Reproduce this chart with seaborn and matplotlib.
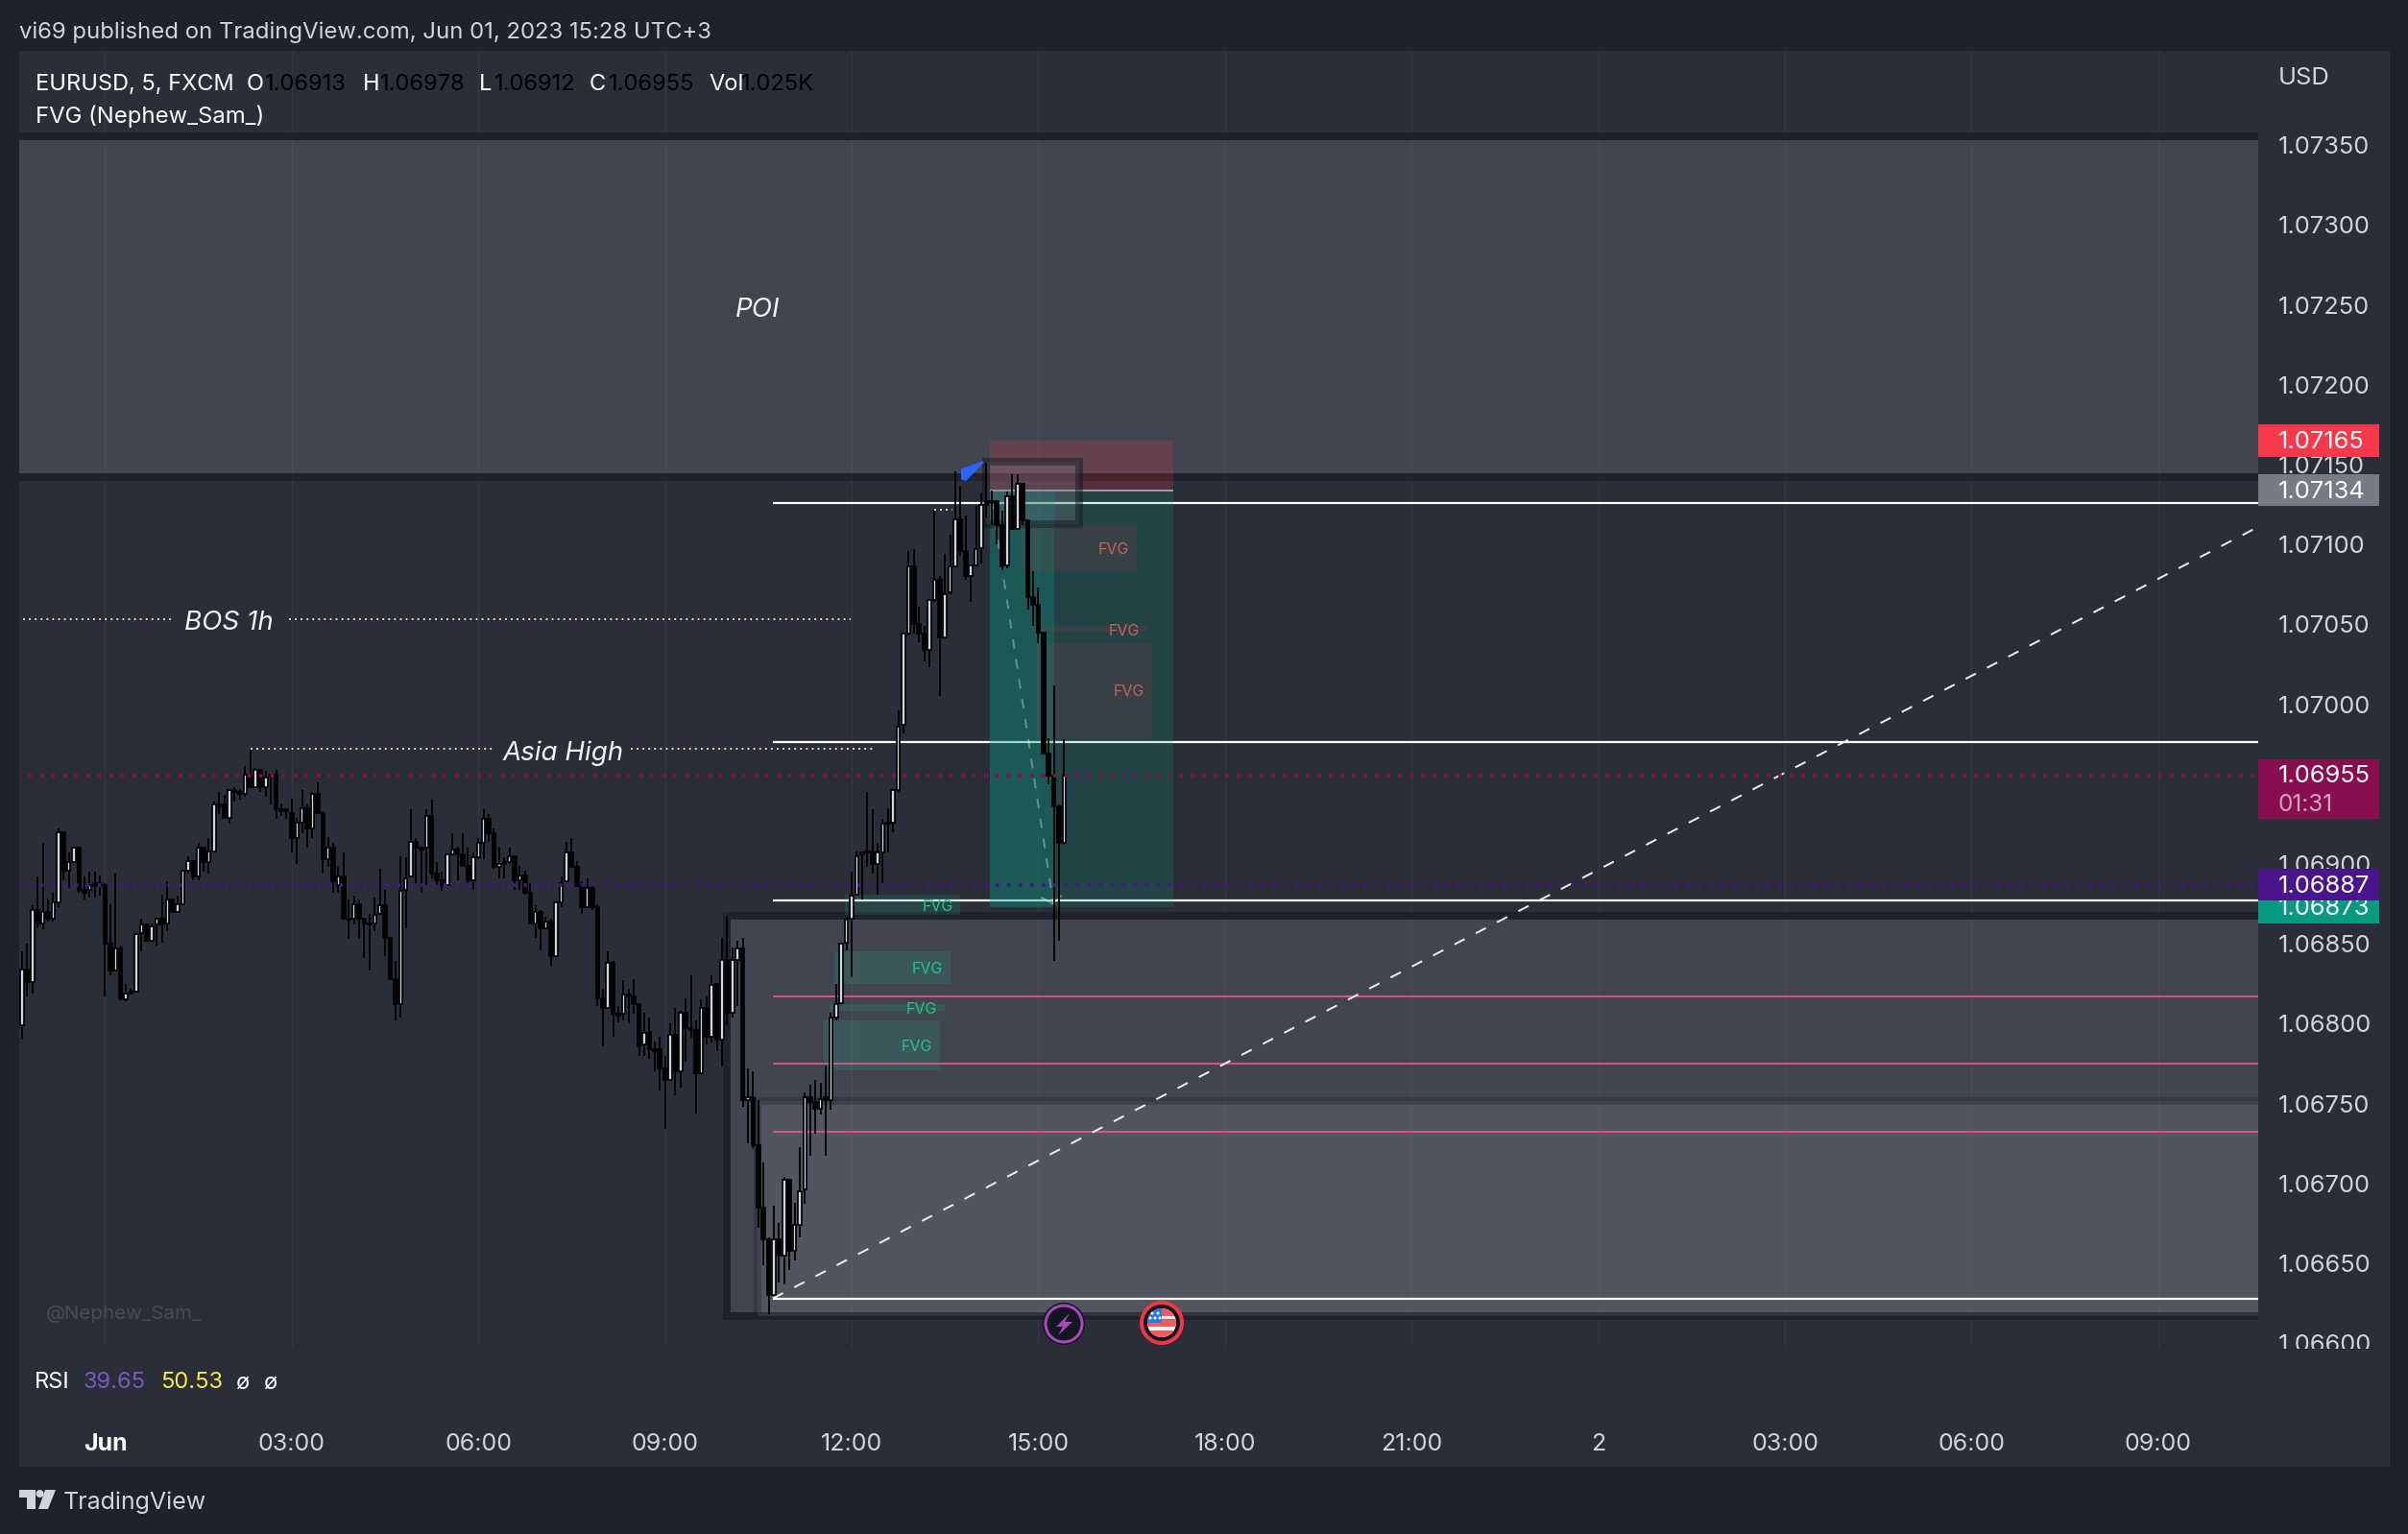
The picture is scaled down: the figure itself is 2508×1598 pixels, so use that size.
import numpy as np
import pandas as pd
import matplotlib
matplotlib.use("Agg")
import matplotlib.pyplot as plt
import seaborn as sns
from matplotlib.patches import Rectangle, Circle, Polygon
from matplotlib.transforms import Affine2D, Bbox, blended_transform_factory

# 5 minute EURUSD candles, in 1/100000 of a dollar.
# first_bar is 22:40, bar 0 is Jun 1st 00:00
first_bar = -16

candle_open = [
    106799, 106834, 106826, 106871, 106863, 106870, 106866, 106876, 106920, 106896, 106901, 106910, 106884, 106884, 106888, 106888,
    106887, 106850, 106833, 106847, 106815, 106820, 106820, 106857, 106862, 106852,
    106862, 106866, 106863, 106878, 106870, 106875, 106896, 106902, 106892, 106910,
    106901, 106908, 106937, 106937, 106929, 106946, 106945, 106944, 106956, 106948,
    106959, 106948, 106956, 106956, 106934, 106934, 106932, 106916, 106926, 106935,
    106922, 106944, 106932, 106903, 106910, 106887, 106892, 106866, 106866, 106875,
    106866, 106863, 106863, 106869, 106874, 106854, 106828, 106812, 106884, 106892,
    106914, 106910, 106910, 106930, 106894, 106890, 106887, 106906, 106909, 106906,
    106899, 106890, 106904, 106913, 106928, 106919, 106898, 106901, 106901, 106905,
    106890, 106893, 106882, 106863, 106870, 106860, 106864, 106842, 106876, 106889,
    106907, 106898, 106886, 106873, 106885, 106873, 106816, 106810, 106838, 106806,
    106806, 106818, 106817, 106812, 106787, 106795, 106784, 106784, 106772, 106765,
    106793, 106770, 106807, 106797, 106796, 106769, 106810, 106792, 106825, 106790,
    106840, 106807, 106840, 106847, 106752, 106754, 106724, 106685, 106665, 106630,
    106665, 106655, 106702, 106658, 106674, 106696, 106754, 106751, 106747, 106754,
    106752, 106804, 106813, 106851, 106866, 106881, 106906, 106908, 106908, 106900,
    106907, 106926, 106926, 106946, 106987, 107044, 107086, 107050, 107044, 107034,
    107065, 107078, 107042, 107070, 107086, 107116, 107096, 107080, 107087, 107098,
    107127, 107127, 107127, 107112, 107087, 107130, 107110, 107138, 107115, 107067,
    107062, 107045, 106969, 106955, 106936, 106913,
]
candle_high = [
    106845, 106850, 106874, 106892, 106913, 106878, 106882, 106922, 106920, 106907, 106910, 106910, 106892, 106895, 106895, 106893,
    106888, 106875, 106894, 106849, 106825, 106822, 106856, 106866, 106863, 106863,
    106866, 106881, 106889, 106878, 106880, 106896, 106905, 106902, 106913, 106910,
    106916, 106939, 106945, 106943, 106946, 106948, 106947, 106961, 106972, 106960,
    106959, 106958, 106956, 106959, 106938, 106935, 106941, 106929, 106946, 106937,
    106945, 106951, 106933, 106917, 106913, 106898, 106907, 106878, 106880, 106878,
    106866, 106869, 106879, 106897, 106884, 106854, 106839, 106905, 106904, 106934,
    106916, 106910, 106934, 106940, 106901, 106895, 106906, 106919, 106911, 106919,
    106910, 106907, 106916, 106935, 106931, 106922, 106911, 106904, 106910, 106905,
    106899, 106896, 106888, 106874, 106871, 106867, 106866, 106876, 106892, 106914,
    106916, 106902, 106889, 106891, 106886, 106875, 106822, 106845, 106839, 106811,
    106827, 106822, 106828, 106812, 106807, 106804, 106789, 106792, 106780, 106800,
    106810, 106808, 106816, 106830, 106802, 106815, 106817, 106830, 106825, 106854,
    106867, 106848, 106852, 106854, 106772, 106770, 106752, 106713, 106666, 106686,
    106675, 106704, 106703, 106688, 106723, 106757, 106762, 106765, 106763, 106774,
    106807, 106825, 106850, 106867, 106895, 106908, 106908, 106945, 106934, 106913,
    106928, 106935, 106947, 106996, 107044, 107096, 107097, 107061, 107049, 107065,
    107121, 107080, 107094, 107106, 107146, 107137, 107118, 107087, 107124, 107132,
    107151, 107134, 107127, 107121, 107133, 107144, 107144, 107138, 107115, 107083,
    107073, 107045, 106979, 107012, 106937, 106978,
]
candle_low = [
    106790, 106817, 106819, 106860, 106859, 106864, 106864, 106873, 106890, 106885, 106901, 106882, 106878, 106879, 106879, 106880,
    106817, 106830, 106833, 106815, 106814, 106819, 106820, 106845, 106852, 106852,
    106849, 106851, 106858, 106870, 106870, 106875, 106894, 106890, 106890, 106895,
    106894, 106908, 106931, 106929, 106925, 106939, 106940, 106942, 106948, 106948,
    106945, 106942, 106937, 106928, 106930, 106928, 106907, 106900, 106919, 106910,
    106916, 106932, 106894, 106898, 106882, 106882, 106866, 106853, 106862, 106853,
    106841, 106833, 106858, 106868, 106842, 106828, 106802, 106804, 106860, 106892,
    106888, 106882, 106887, 106891, 106887, 106883, 106887, 106906, 106890, 106899,
    106886, 106884, 106903, 106903, 106914, 106897, 106891, 106891, 106900, 106884,
    106884, 106881, 106863, 106854, 106846, 106859, 106836, 106842, 106873, 106889,
    106898, 106886, 106869, 106873, 106871, 106811, 106786, 106810, 106792, 106801,
    106802, 106800, 106806, 106780, 106780, 106778, 106770, 106758, 106734, 106765,
    106755, 106760, 106776, 106791, 106744, 106769, 106787, 106788, 106783, 106773,
    106799, 106804, 106811, 106748, 106725, 106722, 106672, 106649, 106618, 106630,
    106638, 106637, 106646, 106652, 106666, 106687, 106717, 106731, 106743, 106717,
    106746, 106802, 106813, 106846, 106829, 106881, 106878, 106898, 106894, 106881,
    106886, 106907, 106920, 106945, 106982, 107043, 107044, 107039, 107027, 107023,
    107064, 107005, 107042, 107069, 107086, 107093, 107078, 107064, 107087, 107088,
    107117, 107112, 107100, 107084, 107085, 107109, 107110, 107112, 107059, 107049,
    107038, 106969, 106950, 106839, 106852, 106912,
]
candle_close = [
    106834, 106826, 106871, 106863, 106870, 106866, 106876, 106920, 106896, 106901, 106910, 106883, 106882, 106887, 106886, 106887,
    106850, 106833, 106847, 106815, 106819, 106819, 106856, 106862, 106852, 106861,
    106866, 106862, 106878, 106870, 106875, 106896, 106902, 106892, 106910, 106901,
    106908, 106937, 106936, 106929, 106946, 106945, 106944, 106956, 106948, 106959,
    106948, 106954, 106955, 106934, 106933, 106933, 106916, 106926, 106935, 106922,
    106944, 106932, 106903, 106910, 106889, 106892, 106866, 106865, 106875, 106866,
    106863, 106862, 106868, 106874, 106854, 106828, 106812, 106883, 106891, 106914,
    106910, 106909, 106930, 106894, 106890, 106887, 106906, 106909, 106906, 106899,
    106890, 106904, 106913, 106928, 106919, 106898, 106900, 106900, 106905, 106890,
    106893, 106882, 106863, 106870, 106860, 106864, 106842, 106876, 106888, 106907,
    106898, 106886, 106873, 106885, 106873, 106816, 106810, 106838, 106806, 106805,
    106818, 106817, 106812, 106786, 106794, 106784, 106783, 106772, 106765, 106793,
    106770, 106807, 106797, 106796, 106769, 106810, 106792, 106824, 106790, 106840,
    106807, 106840, 106847, 106752, 106754, 106724, 106685, 106665, 106630, 106665,
    106655, 106702, 106658, 106674, 106695, 106754, 106751, 106747, 106753, 106752,
    106804, 106812, 106850, 106865, 106880, 106905, 106907, 106907, 106900, 106907,
    106925, 106925, 106946, 106986, 107044, 107086, 107050, 107044, 107034, 107065,
    107078, 107042, 107069, 107086, 107116, 107096, 107080, 107087, 107097, 107125,
    107125, 107126, 107112, 107086, 107130, 107110, 107138, 107115, 107067, 107062,
    107045, 106969, 106955, 106936, 106913, 106955,
]

# axis labels
price_ticks = [1.066, 1.0665, 1.067, 1.0675, 1.068, 1.0685, 1.069, 1.0695, 1.07, 1.0705, 1.071, 1.0715, 1.072, 1.0725, 1.073, 1.0735]
time_ticks = [0, 36, 72, 108, 144, 180, 216, 252, 288, 324, 360, 396]
time_labels = ["Jun", "03:00", "06:00", "09:00", "12:00", "15:00", "18:00", "21:00", "2", "03:00", "06:00", "09:00"]

# price levels drawn on the chart
white_levels = [1.07126, 1.069765, 1.06877, 1.06628]
pink_levels = [1.06817, 1.06775, 1.067325]
last_price = 1.06955
purple_price = 1.06887

# fair value gaps: bar start, bar end, price low, price high, label bar, label price
red_fvgs = [
    (176.6, 199, 1.07083, 1.07112, 194.5, 1.07097),
    (178.6, 201, 1.070455, 1.07049, 196.6, 1.07046),
    (179.7, 202, 1.06979, 1.07038, 197.5, 1.07008),
]
green_fvgs = [
    (142.7, 165, 1.06868, 1.06881, 160.6, 1.06873),
    (140.6, 163, 1.06825, 1.06845, 158.6, 1.06834),
    (139.7, 162, 1.06808, 1.06812, 157.5, 1.06809),
    (138.6, 161, 1.06771, 1.06802, 156.6, 1.067855),
]

# brush stroke of the blue check mark, bar and price
check_bars = [165.2, 166.0, 169.2, 169.3, 166.0, 165.2]
check_prices = [1.07147, 1.07148, 1.07152, 1.07151, 1.0714, 1.07141]

W, H = 2508, 1598
PAGE = "#1e222d"
PANEL = "#2a2e39"
TXT = "#d1d4dc"
DARK = (30 / 255, 34 / 255, 45 / 255)
ZONE = (120 / 255, 123 / 255, 134 / 255)
LABEL_SIZE = 18.3


def fx(x):
    return x / W


def fy(y):
    return 1 - y / H


def px(n):
    # screen pixels to points
    return n * 0.72


sns.set_theme(style="dark", rc={"axes.facecolor": "none", "figure.facecolor": PAGE})
plt.rcParams['font.family'] = ['Inter', 'Noto Sans', 'DejaVu Sans']

df = pd.DataFrame({"open": candle_open, "high": candle_high, "low": candle_low, "close": candle_close}) / 1e5
df["bar"] = np.arange(first_bar, first_bar + len(df))
df["bottom"] = df[["open", "close"]].min(axis=1)
df["height"] = (df["close"] - df["open"]).abs()
df["fill"] = np.where(df["close"] >= df["open"], TXT, "black")
wicks = df.melt(id_vars="bar", value_vars=["low", "high"], value_name="price").sort_values("bar")

fig = plt.figure(figsize=(W / 100, H / 100), dpi=100)
fig.add_artist(Rectangle((fx(20), fy(1528)), fx(2469), (1528 - 53) / H, transform=fig.transFigure,
                         facecolor=PANEL, edgecolor="none", zorder=-1))

ax = fig.add_axes([fx(20), fy(1403), fx(2332), (1403 - 53) / H])
ax.set_xlim(-16.57, 415.3)
ax.set_ylim(1.065977, 1.07409)
for s in ax.spines.values():
    s.set_visible(False)
ax.set_axisbelow(True)
ax.grid(axis="x", color="#343844", linewidth=px(1.4))
ax.grid(axis="y", visible=False)

# supply and demand zones
ax.add_patch(Rectangle((-40, 1.07142), 520, 1.073556 - 1.07142, facecolor=ZONE + (0.3,),
                       edgecolor=DARK + (1,), linewidth=px(8), zorder=1))
ax.add_patch(Rectangle((119.9, 1.06617), 400, 1.068675 - 1.06617, facecolor=ZONE + (0.3,),
                       edgecolor=DARK + (1,), linewidth=px(8), zorder=1.1))
ax.add_patch(Rectangle((125.8, 1.06617), 400, 1.067516 - 1.06617, facecolor=ZONE + (0.3,),
                       edgecolor=DARK + (0.35,), linewidth=px(8), zorder=1.2))

# level lines
ax.hlines(white_levels, 128.8, 416, color="white", linewidth=px(2.2), zorder=3)
ax.hlines(pink_levels, 128.8, 416, color="#d94f87", linewidth=px(2.0), zorder=3)

# long position tool
ax.add_patch(Rectangle((170.6, 1.06873), 35.4, 1.07134 - 1.06873, facecolor="#089981", alpha=0.2, edgecolor="none", zorder=3.5))
ax.add_patch(Rectangle((170.6, 1.06873), 12.4, 1.07134 - 1.06873, facecolor="#089981", alpha=0.25, edgecolor="none", zorder=3.5))
ax.add_patch(Rectangle((170.6, 1.07134), 35.4, 1.07165 - 1.07134, facecolor="#f23645", alpha=0.2, edgecolor="none", zorder=3.5))
ax.hlines(1.07134, 170.6, 206, color="#9a9aa6", linewidth=px(2), zorder=3.6)

# order block
ax.add_patch(Rectangle((169.9, 1.07113), 18, 1.07152 - 1.07113, facecolor=ZONE + (0.3,),
                       edgecolor=(15 / 255, 20 / 255, 30 / 255, 0.45), linewidth=px(8), zorder=3.7))

for x0, x1, lo, hi, lx, ly in red_fvgs:
    ax.add_patch(Rectangle((x0, lo), x1 - x0, hi - lo, facecolor="#f23645", alpha=0.1, edgecolor="none", zorder=3.8))
    ax.text(lx, ly, "FVG", color="#c9605c", fontsize=11.5, ha="center", va="center", zorder=3.9)
for x0, x1, lo, hi, lx, ly in green_fvgs:
    ax.add_patch(Rectangle((x0, lo), x1 - x0, hi - lo, facecolor="#22ab94", alpha=0.18, edgecolor="none", zorder=3.8))
    ax.text(lx, ly, "FVG", color="#1fc77f", fontsize=11.5, ha="center", va="center", zorder=3.9)

# dashed trend lines
ax.plot([128.8, 415.3], [1.06628, 1.07111], color="#ececec", linewidth=px(2), linestyle=(0, (6, 6.5)), zorder=3.4)
ax.plot([171, 182.9], [1.07128, 1.06875], color="white", alpha=0.33, linewidth=px(2), linestyle=(0, (5, 5.5)), zorder=4)
ax.plot([180.6, 182.9, 184.4], [1.06879, 1.06875, 1.0688], color="white", alpha=0.33, linewidth=px(2), zorder=4)

# candles
sns.lineplot(data=wicks, x="bar", y="price", units="bar", estimator=None, color="black",
             linewidth=px(1.8), solid_capstyle="butt", legend=False, ax=ax, zorder=5)
ax.bar(df["bar"], df["height"], bottom=df["bottom"], width=0.65, color=df["fill"], edgecolor="black",
       linewidth=px(1.7), zorder=6)

# dotted lines over candles
ax.plot([-17, 416], [last_price, last_price], color="#880e4f", linewidth=px(3.6), linestyle=(0, (1, 2.33)),
        dash_capstyle="butt", zorder=7)
ax.plot([-17, 416], [purple_price, purple_price], color="#4a148c", linewidth=px(3.6), linestyle=(0, (1, 2.33)),
        dash_capstyle="butt", zorder=7)
gold = dict(color="#ffdca8", linewidth=px(1.9), linestyle=(0, (1, 2.2)), dash_capstyle="butt", zorder=7)
ax.plot([-17, 12.9], [1.07053, 1.07053], **gold)
ax.plot([35.5, 143.8], [1.07053, 1.07053], **gold)
ax.plot([28, 75], [1.06972, 1.06972], **gold)
ax.plot([101.4, 148.4], [1.06972, 1.06972], **gold)
ax.plot([160, 163.4], [1.07122, 1.07122], **gold)

# blue check mark
ax.add_patch(Polygon(list(zip(check_bars, check_prices)), closed=True, facecolor="#2962ff", edgecolor="#2962ff",
                     linewidth=px(1), joinstyle="round", zorder=8))

note = dict(color="#f0f3fa", fontsize=20, style="italic", ha="center", va="center", zorder=8)
ax.text(23.8, 1.07051, "BOS 1h", **note)
ax.text(88.4, 1.06969, "Asia High", **note)
ax.text(125.8, 1.07247, "POI", **note)

# axis ticks
ax.yaxis.tick_right()
ax.set_yticks(price_ticks)
ax.set_yticklabels([f"{p:.5f}" for p in price_ticks])
ax.set_xticks(time_ticks)
ax.set_xticklabels(time_labels)
ax.set_xlabel("")
ax.set_ylabel("")
ax.tick_params(axis="y", length=0, pad=15, labelsize=LABEL_SIZE, labelcolor=TXT, right=False)
ax.tick_params(axis="x", length=0, pad=65, labelsize=18, labelcolor=TXT, bottom=False)
ax.get_xticklabels()[0].set_fontweight("bold")
ax.get_xticklabels()[0].set_color("white")
# the lowest price label is cut by the end of the pane
ax.get_yticklabels()[0].set_clip_box(Bbox.from_extents(0, H - 1405, W, H))
ax.get_yticklabels()[0].set_clip_on(True)

# price badges on the axis
badge_tr = blended_transform_factory(fig.transFigure, ax.transData)
badges = [
    (1.07165, 1.07165, 0.0001, "#f7394b", 20),
    (1.07134, 1.07134, 0.0001, "#787b86", 20),
    (1.06873, 1.06873, 0.0001, "#089981", 20),
    (1.06887, 1.06887, 0.0001, "#4a148c", 21),
]
for center, label, half, color, z in badges:
    ax.add_patch(Rectangle((fx(2352), center - half), fx(126), 2 * half, transform=badge_tr, facecolor=color,
                           edgecolor="none", clip_on=False, zorder=z))
    ax.text(fx(2373), center - 0.00001, f"{label:.5f}", transform=badge_tr, color="white", fontsize=LABEL_SIZE,
            va="center", clip_on=False, zorder=z + 0.5)
ax.add_patch(Rectangle((fx(2352), 1.06928), fx(126), 0.000377, transform=badge_tr,
                       facecolor="#880e4f", edgecolor="none", clip_on=False, zorder=20))
ax.text(fx(2373), 1.06955, "1.06955", transform=badge_tr, color="white", fontsize=LABEL_SIZE, va="center", zorder=21)
ax.text(fx(2373), 1.06955 - 0.00018, "01:31", transform=badge_tr, color="#cfa3bb", fontsize=17.5, va="center", zorder=21)

# header, legend and footer text
fig.text(fx(20), fy(33.5), "vi69 published on TradingView.com, Jun 01, 2023 15:28 UTC+3", color=TXT, fontsize=17.2, va="center")
legend_bits = [
    (37, "EURUSD, 5, FXCM", "white"), (257, "O", "white"), (276, "1.06913", "black"),
    (378, "H", "white"), (396, "1.06978", "black"), (499, "L", "white"), (515, "1.06912", "black"),
    (614, "C", "white"), (634, "1.06955", "black"), (738, "Vol", "white"), (772, "1.025K", "black"),
]
for x, s, c in legend_bits:
    fig.text(fx(x), fy(87.5), s, color=c, fontsize=17, va="center")
fig.text(fx(37), fy(121.5), "FVG (Nephew_Sam_)", color="white", fontsize=17.2, va="center")
fig.text(fx(2373), fy(82), "USD", color=TXT, fontsize=LABEL_SIZE, va="center")
fig.text(fx(48), fy(1369), "@Nephew_Sam_", color="#464a55", fontsize=14.8, va="center")
for x, s, c in [(36, "RSI", "white"), (87, "39.65", "#7e57c2"), (167, "50.53", "#ffeb3b"), (246, "ø", "white"), (275, "ø", "white")]:
    fig.text(fx(x), fy(1440.5), s, color=c, fontsize=17, va="center")
fig.text(fx(66), fy(1565.5), "TradingView", color=TXT, fontsize=18, va="center")

# tradingview logo and event icons, in screen pixels
screen = Affine2D().scale(1, -1).translate(0, H)
logo = [
    Polygon([(20, 1552), (37, 1552), (37, 1572), (28, 1572), (28, 1560), (20, 1560)]),
    Circle((41.5, 1556), 4),
    Polygon([(47, 1552), (58, 1552), (50, 1572), (40, 1572)]),
]
for p in logo:
    p.set(facecolor=TXT, edgecolor="none", transform=screen)
    fig.add_artist(p)

fig.add_artist(Circle((1108, 1379), 22, transform=screen, facecolor="#131722", edgecolor="none"))
fig.add_artist(Circle((1108, 1379), 19, transform=screen, facecolor="#131722", edgecolor="#ab47bc", linewidth=px(3)))
fig.add_artist(Polygon([(1114, 1368), (1100, 1382), (1107, 1382), (1102, 1391), (1117, 1377), (1109, 1377)],
                       transform=screen, facecolor="#ab47bc", edgecolor="none"))

fig.add_artist(Circle((1210, 1378), 21, transform=screen, facecolor="#131722", edgecolor="#f23645", linewidth=px(4)))
flag = Circle((1210, 1378), 15, transform=screen, facecolor="#f5f5fa", edgecolor="none")
fig.add_artist(flag)
for y0, y1, col in [(1363, 1371, "#f25c5c"), (1374, 1382, "#f25c5c"), (1386, 1394, "#f25c5c"), (1363, 1378, "#2979e8")]:
    x0, x1 = (1195, 1225) if col != "#2979e8" else (1195, 1210)
    r = Rectangle((x0, y0), x1 - x0, y1 - y0, transform=screen, facecolor=col, edgecolor="none")
    fig.add_artist(r)
    r.set_clip_path(flag)
for sx, sy in [(1200, 1368), (1206, 1368), (1198, 1373), (1203, 1373), (1208, 1373)]:
    fig.add_artist(Circle((sx, sy), 1.5, transform=screen, facecolor="white", edgecolor="none"))

fig.savefig("out.png", dpi=100, facecolor=PAGE)
